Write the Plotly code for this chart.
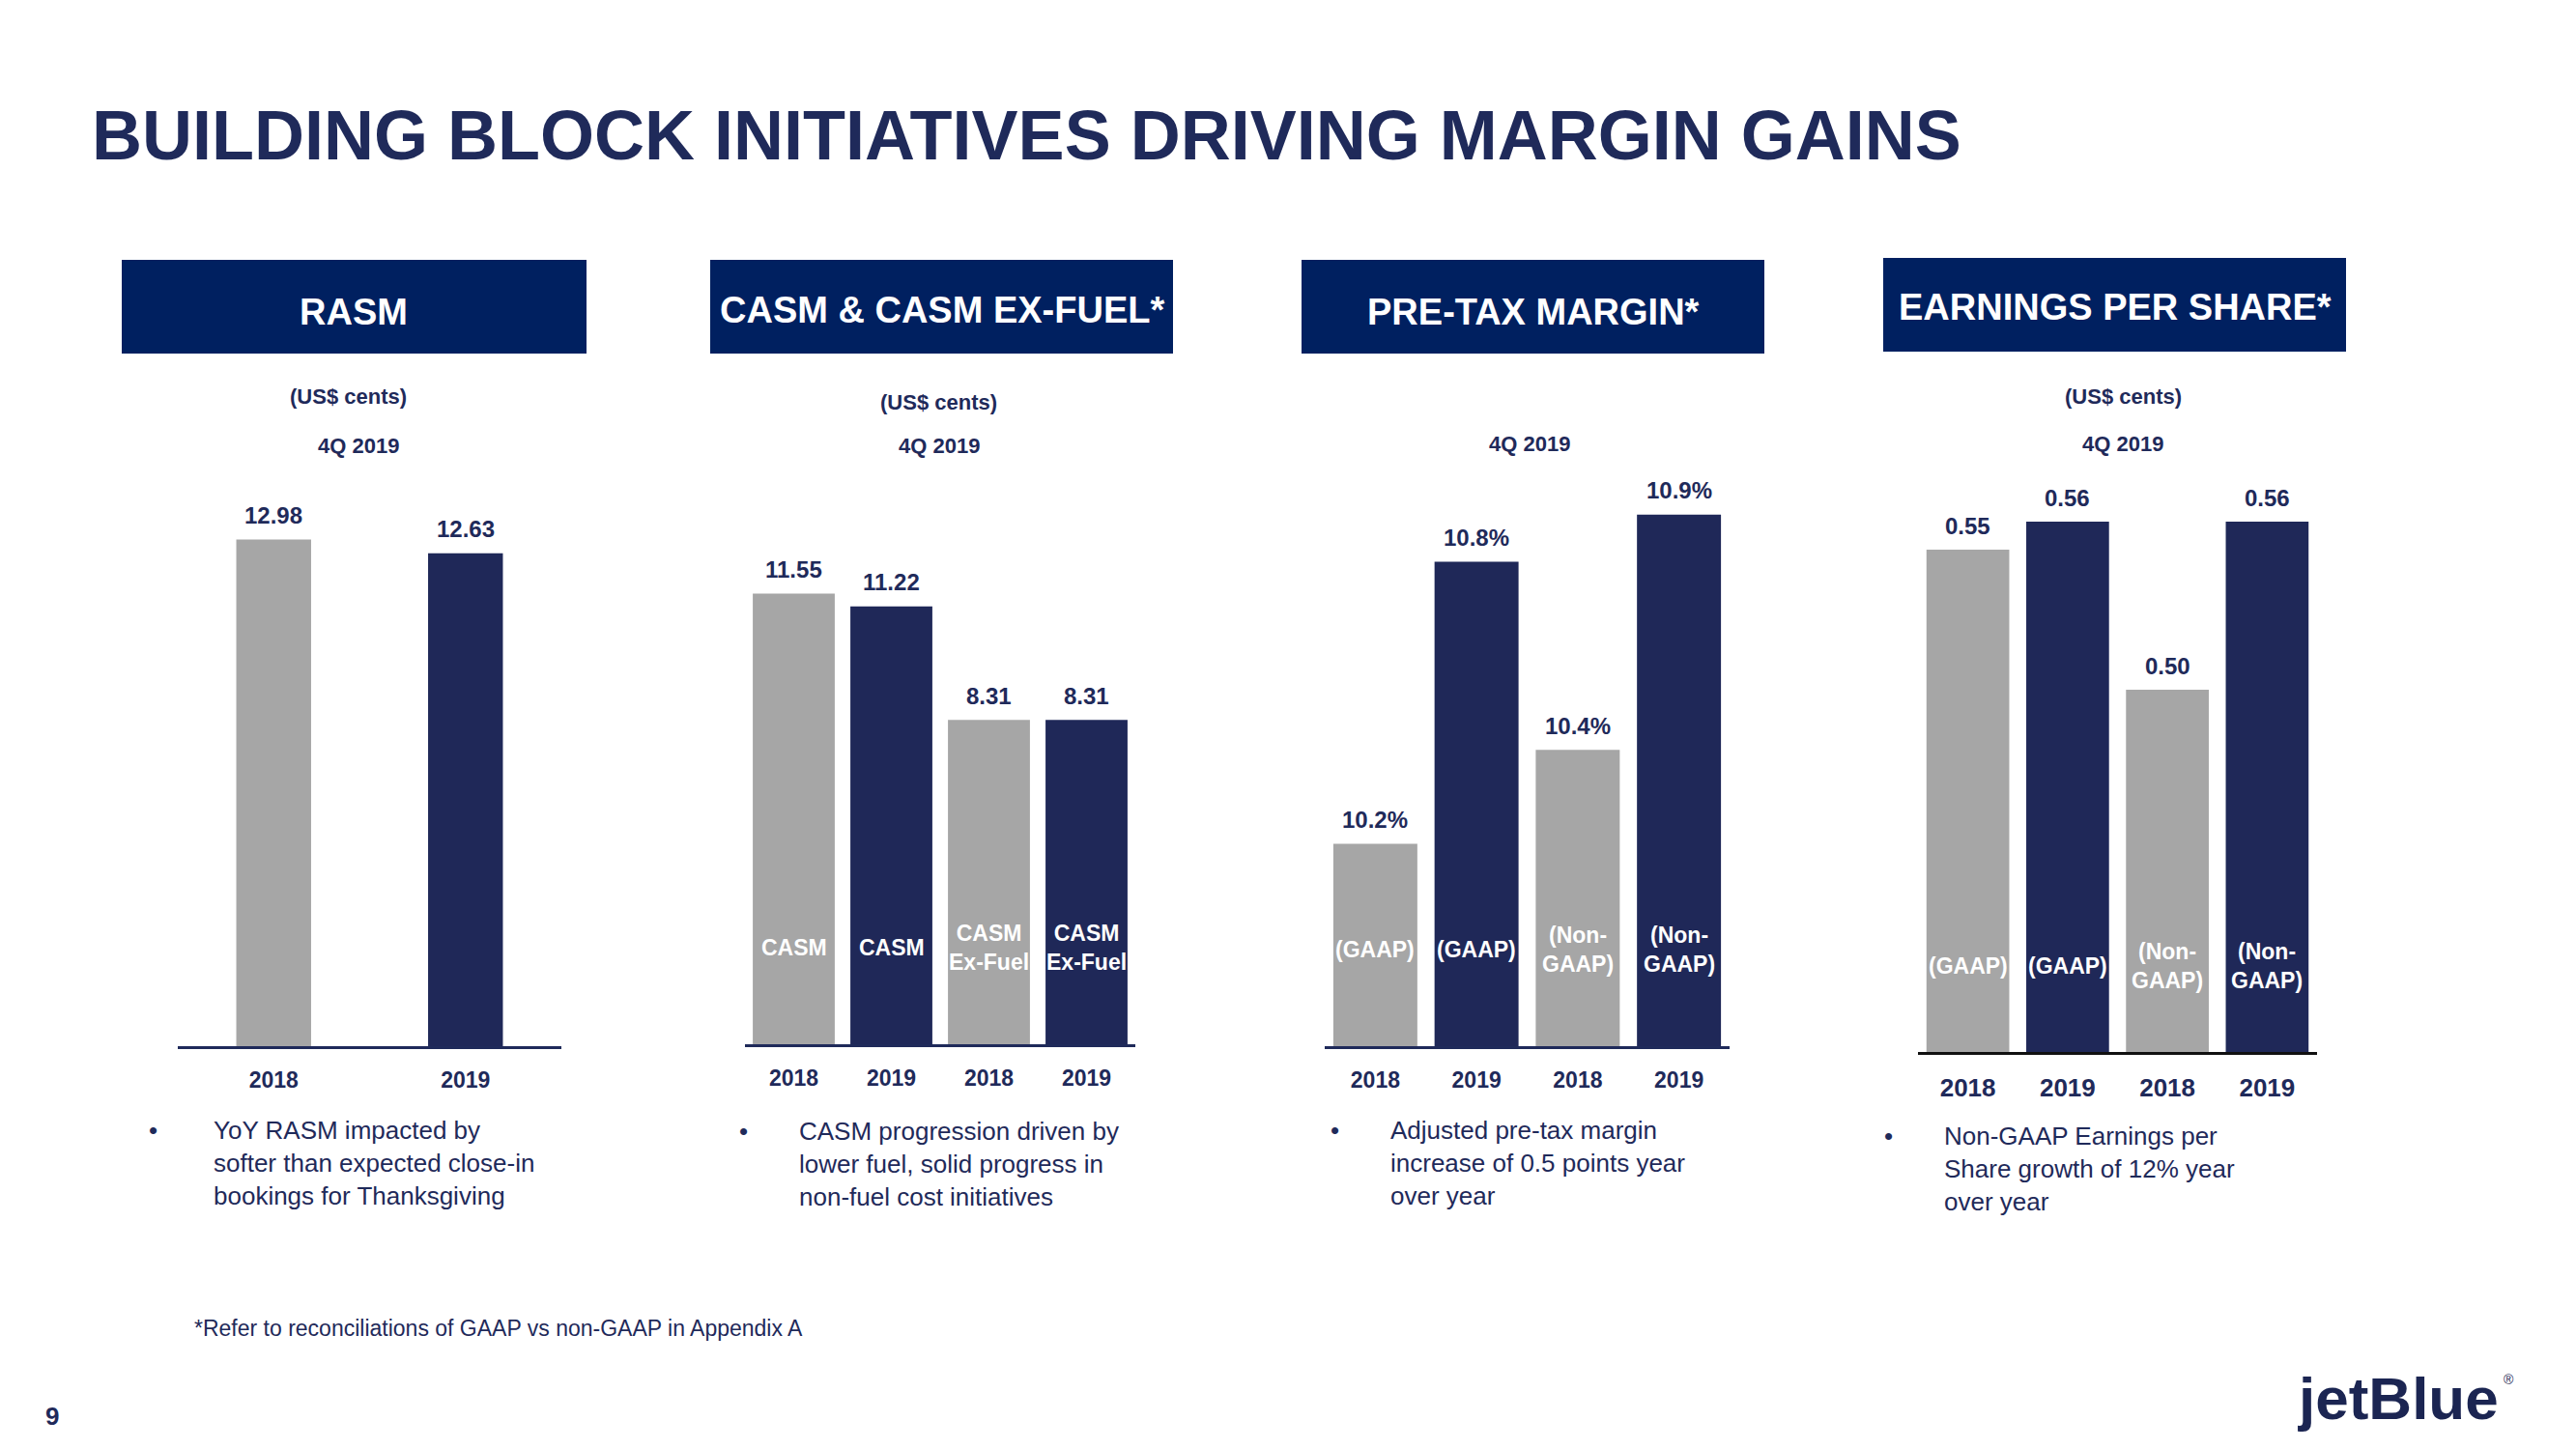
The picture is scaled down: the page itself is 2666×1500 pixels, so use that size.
import plotly.graph_objects as go

# page is drawn inside the browser body margin (8 px)
OFF = 8
W, H = 2666, 1500
FW, FH = W - 2 * OFF, H - 2 * OFF
FONT = "Liberation Sans, Arial, sans-serif"
GREY = "#A6A6A6"
NAVY = "#1F2858"
HEADER = "#002060"
TEXT = "#1F2A5A"

# ---------------- data ----------------
title = "BUILDING BLOCK INITIATIVES DRIVING MARGIN GAINS"

rasm_years = ["2018", "2019"]
rasm_values = [12.98, 12.63]
rasm_inner = ["", ""]

casm_years = ["2018", "2019", "2018", "2019"]
casm_values = [11.55, 11.22, 8.31, 8.31]
casm_inner = ["CASM", "CASM", "CASM<br>Ex-Fuel", "CASM<br>Ex-Fuel"]

ptm_years = ["2018", "2019", "2018", "2019"]
ptm_values = [10.2, 10.8, 10.4, 10.9]
ptm_inner = ["(GAAP)", "(GAAP)", "(Non-<br>GAAP)", "(Non-<br>GAAP)"]

eps_years = ["2018", "2019", "2018", "2019"]
eps_values = [0.55, 0.56, 0.50, 0.56]
eps_inner = ["(GAAP)", "(GAAP)", "(Non-<br>GAAP)", "(Non-<br>GAAP)"]

headers = ["RASM", "CASM &amp; CASM EX-FUEL*", "PRE-TAX MARGIN*", "EARNINGS PER SHARE*"]
units = ["(US$ cents)", "(US$ cents)", "", "(US$ cents)"]
periods = ["4Q 2019", "4Q 2019", "4Q 2019", "4Q 2019"]
bullets = [
    "YoY RASM impacted by<br>softer than expected close-in<br>bookings for Thanksgiving",
    "CASM progression driven by<br>lower fuel, solid progress in<br>non-fuel cost initiatives",
    "Adjusted pre-tax margin<br>increase of 0.5 points year<br>over year",
    "Non-GAAP Earnings per<br>Share growth of 12% year<br>over year",
]
footnote = "*Refer to reconciliations of GAAP vs non-GAAP in Appendix A"

# ---------------- layout geometry (screen pixels) ----------------
def fx(p):
    return (p - OFF) / FW

def fy(p):
    return 1 - (p - OFF) / FH

panels = [
    dict(years=rasm_years, values=rasm_values, inner=rasm_inner, fmt="{:.2f}",
         xd=(184, 581), base=1083, top=480, r0=0.0, k=40.4, width=0.39,
         box=(126, 607, 269, 366), head_y=323, unit_xy=(360, 410), per_xy=(371, 461),
         bul_x=(158, 219), bul_y=1170, inner_y=981, line="#1F2A5A", tick=23),
    dict(years=casm_years, values=casm_values, inner=casm_inner, fmt="{:.2f}",
         xd=(771, 1175), base=1081, top=480, r0=0.0, k=40.4, width=0.84,
         box=(735, 1214, 269, 366), head_y=321, unit_xy=(971, 416), per_xy=(972, 462),
         bul_x=(769, 825), bul_y=1171, inner_y=981, line="#1F2A5A", tick=23),
    dict(years=ptm_years, values=ptm_values, inner=ptm_inner, fmt="{:.1f}%",
         xd=(1371, 1790), base=1083, top=480, r0=9.77, k=487.0, width=0.83,
         box=(1347, 1826, 269, 366), head_y=323, unit_xy=(1583, 410), per_xy=(1583, 459),
         bul_x=(1381, 1437), bul_y=1170, inner_y=983, line="#1F2A5A", tick=23),
    dict(years=eps_years, values=eps_values, inner=eps_inner, fmt="{:.2f}",
         xd=(1985, 2398), base=1089, top=480, r0=0.3707, k=2900.0, width=0.83,
         box=(1949, 2428, 267, 364), head_y=318, unit_xy=(2197, 410), per_xy=(2197, 459),
         bul_x=(1954, 2010), bul_y=1176, inner_y=1000, line="#111111", tick=26),
]

fig = go.Figure()
annotations = []
shapes = []

for i, p in enumerate(panels):
    n = i + 1
    xa = "x" if n == 1 else f"x{n}"
    ya = "y" if n == 1 else f"y{n}"
    xs = list(range(len(p["values"])))
    colors = [GREY if j % 2 == 0 else NAVY for j in xs]
    fig.add_trace(go.Bar(
        x=xs, y=p["values"], width=p["width"], marker=dict(color=colors, line=dict(width=0)),
        xaxis=xa, yaxis=ya, showlegend=False, hoverinfo="skip",
    ))
    y_top = p["r0"] + (p["base"] - p["top"]) / p["k"]
    xkey = "xaxis" if n == 1 else f"xaxis{n}"
    ykey = "yaxis" if n == 1 else f"yaxis{n}"
    fig.update_layout(**{
        xkey: dict(domain=[fx(p["xd"][0]), fx(p["xd"][1])], anchor=ya,
                   range=[-0.5, len(xs) - 0.5], tickvals=xs, ticktext=p["years"],
                   showline=True, linewidth=3, linecolor=p["line"], showgrid=False,
                   zeroline=False, ticks="", ticklabelstandoff=12,
                   tickfont=dict(family=FONT, size=p["tick"], color=TEXT, weight="bold"),
                   fixedrange=True),
        ykey: dict(domain=[fy(p["base"]), fy(p["top"])], anchor=xa,
                   range=[p["r0"], y_top], visible=False, showgrid=False, zeroline=False,
                   fixedrange=True),
    })
    for j, v in zip(xs, p["values"]):
        annotations.append(dict(x=j, y=v, xref=xa, yref=ya, text=p["fmt"].format(v),
                                showarrow=False, yanchor="middle", yshift=25,
                                font=dict(family=FONT, size=24, color=TEXT, weight="bold")))
        if p["inner"][j]:
            annotations.append(dict(x=j, y=fy(p["inner_y"]), xref=xa, yref="paper",
                                    text=p["inner"][j], showarrow=False, yanchor="middle",
                                    font=dict(family=FONT, size=23, color="white", weight="bold")))
    x0, x1, y0, y1 = p["box"]
    shapes.append(dict(type="rect", xref="paper", yref="paper", x0=fx(x0), x1=fx(x1),
                       y0=fy(y1), y1=fy(y0), fillcolor=HEADER, line=dict(width=0), layer="below"))
    annotations.append(dict(x=fx((x0 + x1) / 2), y=fy(p["head_y"]), xref="paper", yref="paper",
                            text=headers[i], showarrow=False, xanchor="center", yanchor="middle",
                            font=dict(family=FONT, size=38, color="white", weight="bold")))
    if units[i]:
        annotations.append(dict(x=fx(p["unit_xy"][0]), y=fy(p["unit_xy"][1]), xref="paper",
                                yref="paper", text=units[i], showarrow=False,
                                xanchor="center", yanchor="middle",
                                font=dict(family=FONT, size=22, color=TEXT, weight="bold")))
    annotations.append(dict(x=fx(p["per_xy"][0]), y=fy(p["per_xy"][1]), xref="paper",
                            yref="paper", text=periods[i], showarrow=False,
                            xanchor="center", yanchor="middle",
                            font=dict(family=FONT, size=22, color=TEXT, weight="bold")))
    annotations.append(dict(x=fx(p["bul_x"][0]), y=fy(p["bul_y"] - 17), xref="paper", yref="paper",
                            text="•", showarrow=False, xanchor="center", yanchor="top",
                            font=dict(family=FONT, size=26, color=TEXT)))
    annotations.append(dict(x=fx(p["bul_x"][1]), y=fy(p["bul_y"] - 17), xref="paper", yref="paper",
                            text=bullets[i], showarrow=False, xanchor="left", yanchor="top",
                            align="left", font=dict(family=FONT, size=26, color=TEXT)))

annotations.append(dict(x=fx(93), y=fy(140), xref="paper", yref="paper", text=title,
                        showarrow=False, xanchor="left", yanchor="middle",
                        font=dict(family=FONT, size=72, color=TEXT, weight="bold")))
annotations.append(dict(x=fx(199), y=fy(1375), xref="paper", yref="paper", text=footnote,
                        showarrow=False, xanchor="left", yanchor="middle",
                        font=dict(family=FONT, size=23, color=TEXT)))
annotations.append(dict(x=fx(54), y=fy(1466), xref="paper", yref="paper", text="9",
                        showarrow=False, xanchor="center", yanchor="middle",
                        font=dict(family=FONT, size=26, color=TEXT, weight="bold")))
annotations.append(dict(x=fx(2588), y=fy(1447), xref="paper", yref="paper", text="jetBlue",
                        showarrow=False, xanchor="right", yanchor="middle",
                        font=dict(family=FONT, size=62, color="#1B2552", weight="bold")))
annotations.append(dict(x=fx(2589), y=fy(1428), xref="paper", yref="paper", text="®",
                        showarrow=False, xanchor="left", yanchor="middle",
                        font=dict(family=FONT, size=14, color="#1B2552")))

fig.update_layout(
    width=FW, height=FH, margin=dict(l=0, r=0, t=0, b=0),
    paper_bgcolor="white", plot_bgcolor="white",
    annotations=annotations, shapes=shapes, showlegend=False,
)

fig.write_html("out.html", config={"displayModeBar": False})
